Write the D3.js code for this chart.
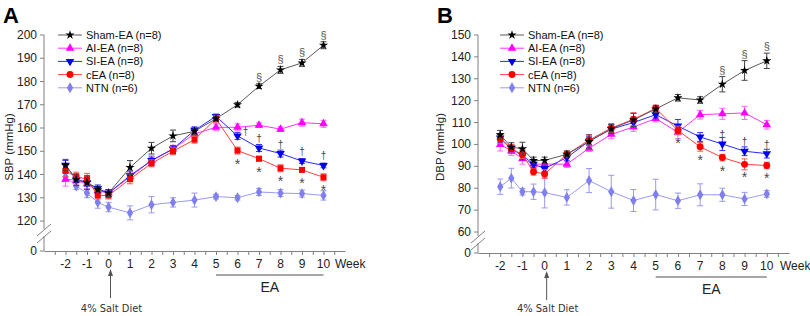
<!DOCTYPE html>
<html>
<head>
<meta charset="utf-8">
<script src="https://cdn.jsdelivr.net/npm/d3@7"></script>
<style>
  body { margin: 0; background: #fff; }
  svg { font-family: "Liberation Sans", Arial, sans-serif; }
</style>
</head>
<body>
<div id="container"></div>
<script>
// weeks where blood pressure was measured
let weeks = [-2, -1.5, -1, -0.5, 0, 1, 2, 3, 4, 5, 6, 7, 8, 9, 10];
let weekLabels = [-2, -1, 0, 1, 2, 3, 4, 5, 6, 7, 8, 9, 10];
let groupNames = ["Sham-EA (n=8)", "AI-EA (n=8)", "SI-EA (n=8)", "cEA (n=8)", "NTN (n=6)"];

// SBP (panel A)
let sbpSham = [144, 137.8, 136.5, 133.5, 132, 143, 151.3, 156.6, 158.6, 164, 170, 178, 185, 188, 195.6];
let sbpShamErr = [2.5, 2.5, 3, 1.5, 1.5, 3, 2.5, 2.5, 1.5, 1, 1, 1, 1.5, 1.5, 1.5];
let sbpAI = [138, 137.5, 136, 133, 132, 139, 146, 151, 157.5, 160.3, 160.3, 161.2, 159.5, 162.3, 161.8];
let sbpAIErr = [3, 2, 2, 1.5, 1.5, 2, 2, 1.5, 1.5, 1.5, 1.5, 1, 1, 1.5, 1.5];
let sbpSI = [144, 138, 136.5, 134, 132, 139.5, 146, 151, 159, 165, 156.6, 151.4, 149, 145.8, 143.9];
let sbpSIErr = [2, 1.5, 1.5, 1.5, 1.5, 2, 1.5, 1.5, 1.5, 1, 1.5, 1.5, 1.5, 1, 1];
let sbpCEA = [141.5, 139, 138, 131, 131, 138, 144.8, 150, 155, 164, 150.3, 146.8, 142.7, 142, 138.8];
let sbpCEAErr = [2.5, 2, 2.5, 1.5, 1.5, 2, 1.5, 1.5, 1.5, 1.5, 1.5, 1, 1.5, 1, 1.5];
let sbpNTN = [139, 135, 132, 128, 126, 123.5, 127, 128, 129, 130.5, 130, 132.5, 132, 131.8, 131];
let sbpNTNErr = [2, 1.5, 2, 2.5, 2, 3, 3.5, 2, 3, 1, 1, 1.5, 1.5, 1.5, 2];
let sbpSection = [7, 8, 9, 10];
let sbpDagger = [7, 8, 9, 10];
let sbpDaggerSide = [6];
let sbpStar = [6, 7, 8, 9, 10];
let sbpTicks = [0, 120, 130, 140, 150, 160, 170, 180, 190, 200];

// DBP (panel B)
let dbpSham = [104.4, 98.8, 98, 92.7, 92.7, 95.5, 101.3, 107.2, 111.2, 116.2, 121.3, 120.3, 127.5, 133.8, 138.2];
let dbpShamErr = [2, 2, 3, 1.5, 1.5, 1.5, 3, 2, 3, 1.5, 1.5, 1.5, 3.5, 4.5, 3.5];
let dbpAI = [100, 97, 93.5, 91, 91, 91, 98.3, 104.6, 108, 111.8, 105.6, 113.6, 114, 114.4, 109];
let dbpAIErr = [3, 2, 2.5, 2, 2, 1.5, 1.5, 2, 2, 1.5, 3, 2, 2.5, 3, 2];
let dbpSI = [103, 98, 95, 91, 89, 94, 101.5, 107, 110, 113.6, 108.4, 103.4, 100.2, 96.9, 95.8];
let dbpSIErr = [2, 2, 2, 1.5, 1.5, 1.5, 2, 2, 2, 1.5, 3, 2, 3, 2, 2];
let dbpCEA = [102.5, 98, 95.5, 87.5, 86.5, 95.5, 102, 107.5, 111.5, 116.5, 106.4, 98.9, 94, 90.9, 90.4];
let dbpCEAErr = [2, 2, 2, 1.5, 2, 1.5, 2.5, 2, 3, 1.5, 2, 2, 1.5, 2.5, 1.5];
let dbpNTN = [80.7, 84.6, 78.4, 78.4, 78, 75.8, 83.5, 78.4, 74.4, 77.1, 74.3, 77, 77, 75.1, 77.4];
let dbpNTNErr = [3.5, 4.5, 1.5, 3.5, 7, 3.5, 5.5, 7.5, 5, 7, 3.5, 5, 3, 3, 1.5];
let dbpSection = [8, 9, 10];
let dbpDagger = [8, 9, 10];
let dbpDaggerSide = [];
let dbpStar = [6, 7, 8, 9, 10];
let dbpTicks = [0, 60, 70, 80, 90, 100, 110, 120, 130, 140, 150];

let w = 810;
let h = 316;

let viz = d3.select("#container")
  .append("svg")
  .attr("width", w)
  .attr("height", h)
;

// style per group: line colour, marker colour, error bar colour, symbol
let styles = [
  {line: "#5a5a5a", fill: "#000000", err: "#444444", sym: d3.symbolStar, size: 26, rot: 0},
  {line: "#ff33ff", fill: "#ff00ff", err: "#ff66ff", sym: d3.symbolTriangle, size: 32, rot: 0},
  {line: "#2a2aff", fill: "#0000ee", err: "#3333ff", sym: d3.symbolTriangle, size: 32, rot: 180},
  {line: "#ff4040", fill: "#ff0000", err: "#ff5555", sym: d3.symbolSquare, size: 36, rot: 0},
  {line: "#9a9af5", fill: "#7f7ff0", err: "#9999f2", sym: d3.symbolDiamond, size: 34, rot: 0}
];

function drawPanel(p) {
  let g = viz.append("g");
  let x = d3.scaleLinear().domain([-3, 11]).range(p.xRange);
  let y = d3.scaleLinear().domain(p.yDomain).range(p.yRange);

  let x0 = p.xRange[0];
  let yTop = p.yRange[p.yRange.length - 1];
  let yBot = p.yRange[0];

  // y axis: ticks and labels
  g.selectAll(".yt").data(p.yTicks).enter().append("line")
    .attr("class", "yt")
    .attr("x1", x0 - 4).attr("x2", x0)
    .attr("y1", d => y(d)).attr("y2", d => y(d))
    .attr("stroke", "#808080");
  g.selectAll(".yl").data(p.yTicks).enter().append("text")
    .attr("class", "yl")
    .attr("x", x0 - 7).attr("y", d => y(d) + 4)
    .attr("text-anchor", "end").attr("font-size", 12).attr("fill", "#222")
    .text(d => String(d));

  g.append("line").attr("x1", x0).attr("x2", x0).attr("y1", yTop).attr("y2", p.breakY - 4)
    .attr("stroke", "#808080");
  g.append("line").attr("x1", x0).attr("x2", x0).attr("y1", p.breakY + 3).attr("y2", yBot)
    .attr("stroke", "#808080");
  [-3, 4].forEach(off => {
    g.append("line")
      .attr("x1", x0 - 7).attr("y1", p.breakY + off + 6)
      .attr("x2", x0 + 7).attr("y2", p.breakY + off - 6)
      .attr("stroke", "#808080");
  });

  // x axis
  let halfTicks = d3.range(-2.5, 10.51, 0.5);
  let xAxis = g.append("g")
    .attr("transform", `translate(0,${yBot})`)
    .call(d3.axisBottom(x).tickValues(halfTicks).tickSize(4).tickSizeOuter(0).tickFormat(""));
  xAxis.select(".domain").attr("stroke", "#808080");
  xAxis.selectAll("line").attr("stroke", "#808080");
  g.selectAll(".xl").data(weekLabels).enter().append("text")
    .attr("class", "xl")
    .attr("x", d => x(d)).attr("y", yBot + 17)
    .attr("text-anchor", "middle").attr("font-size", 12).attr("fill", "#222")
    .text(d => d);
  g.append("text").attr("x", p.weekX).attr("y", yBot + 17)
    .attr("font-size", 12).attr("fill", "#222").text("Week");

  // EA bar
  g.append("line").attr("x1", x(5)).attr("x2", x(10))
    .attr("y1", yBot + 24).attr("y2", yBot + 24)
    .attr("stroke", "#8a8a8a").attr("stroke-width", 1.5);
  g.append("text").attr("x", x(7.5)).attr("y", yBot + 41)
    .attr("text-anchor", "middle").attr("font-size", 14).attr("fill", "#222").text("EA");

  // salt diet arrow
  g.append("line").attr("x1", x(0) + 2).attr("x2", x(0) + 2)
    .attr("y1", yBot + 47).attr("y2", yBot + 20)
    .attr("stroke", "#555").attr("stroke-width", 1);
  g.append("path")
    .attr("d", `M${x(0) + 2},${yBot + 18} l-2.5,7 l5,0 z`)
    .attr("fill", "#555");
  g.append("text").attr("x", x(0) + 3).attr("y", 312)
    .attr("text-anchor", "middle").attr("font-size", 11).attr("fill", "#333")
    .attr("font-family", "DejaVu Sans Condensed, DejaVu Sans")
    .text("4% Salt Diet");

  // y label and panel letter
  g.append("text")
    .attr("transform", `translate(${p.labelX},${147}) rotate(-90)`)
    .attr("text-anchor", "middle").attr("font-size", 11.5).attr("fill", "#222")
    .text(p.yLabel);
  g.append("text").attr("x", p.letterX).attr("y", 23)
    .attr("font-size", 22).attr("font-weight", "bold").text(p.letter);

  // series, back to front
  let order = [4, 1, 2, 3, 0];
  order.forEach(i => {
    let st = styles[i];
    let sym = (i === 3) ? d3.symbol().type(p.cEAsym).size(p.cEAsym === d3.symbolCircle ? 38 : 36)
                        : d3.symbol().type(st.sym).size(st.size);
    let pts = weeks.map((wk, j) => ({wk: wk, v: p.series[i][j], e: p.errs[i][j]}));
    let lineMaker = d3.line().x(d => x(d.wk)).y(d => y(d.v));
    g.append("path").datum(pts).attr("d", lineMaker)
      .attr("fill", "none").attr("stroke", st.line).attr("stroke-width", 1);
    let eb = g.append("g").attr("stroke", st.err).attr("stroke-width", 1);
    pts.forEach(d => {
      let cx = x(d.wk);
      eb.append("line").attr("x1", cx).attr("x2", cx).attr("y1", y(d.v - d.e)).attr("y2", y(d.v + d.e));
      eb.append("line").attr("x1", cx - 3).attr("x2", cx + 3).attr("y1", y(d.v - d.e)).attr("y2", y(d.v - d.e));
      eb.append("line").attr("x1", cx - 3).attr("x2", cx + 3).attr("y1", y(d.v + d.e)).attr("y2", y(d.v + d.e));
    });
    g.selectAll(".m" + i).data(pts).enter().append("path")
      .attr("class", "m" + i)
      .attr("d", sym)
      .attr("transform", d => `translate(${x(d.wk)},${y(d.v)}) rotate(${st.rot})`)
      .attr("fill", st.fill);
  });

  // significance marks
  let at = (arr, wk) => arr[weeks.indexOf(wk)];
  p.section.forEach(wk => {
    g.append("text").attr("x", x(wk)).attr("y", y(at(p.series[0], wk) + at(p.errs[0], wk)) - 3)
      .attr("text-anchor", "middle").attr("font-size", 11).attr("fill", "#555").text("§");
  });
  p.dagger.forEach(wk => {
    g.append("text").attr("x", x(wk)).attr("y", y(at(p.series[2], wk)) - 6)
      .attr("text-anchor", "middle").attr("font-size", 10).attr("fill", "#444").text("†");
  });
  p.daggerSide.forEach(wk => {
    g.append("text").attr("x", x(wk) + 8).attr("y", y(at(p.series[2], wk)) - 1)
      .attr("text-anchor", "middle").attr("font-size", 10).attr("fill", "#444").text("†");
  });
  p.star.forEach(wk => {
    g.append("text").attr("x", x(wk)).attr("y", y(at(p.series[3], wk)) + 18)
      .attr("text-anchor", "middle").attr("font-size", 14).attr("fill", "#4a4a4a").text("*");
  });

  // legend
  let lg = g.append("g");
  groupNames.forEach((name, i) => {
    let st = styles[i];
    let ly = 35 + i * 13.2;
    let lx = p.legendX;
    lg.append("line").attr("x1", lx).attr("x2", lx + 24).attr("y1", ly).attr("y2", ly)
      .attr("stroke", st.line);
    let sym = (i === 3) ? d3.symbol().type(d3.symbolCircle).size(38) : d3.symbol().type(st.sym).size(st.size);
    lg.append("path").attr("d", sym)
      .attr("transform", `translate(${lx + 12},${ly}) rotate(${st.rot})`)
      .attr("fill", st.fill);
    lg.append("text").attr("x", lx + 28).attr("y", ly + 4)
      .attr("font-size", 11).attr("fill", "#111").text(name);
  });
}

drawPanel({
  letter: "A", letterX: 3, labelX: 13, yLabel: "SBP (mmHg)",
  xRange: [44, 345], yDomain: [0, 120, 200], yRange: [251, 221, 35], yTicks: sbpTicks,
  breakY: 233, weekX: 335, legendX: 58, cEAsym: d3.symbolSquare,
  series: [sbpSham, sbpAI, sbpSI, sbpCEA, sbpNTN],
  errs: [sbpShamErr, sbpAIErr, sbpSIErr, sbpCEAErr, sbpNTNErr],
  section: sbpSection, dagger: sbpDagger, daggerSide: sbpDaggerSide, star: sbpStar
});

drawPanel({
  letter: "B", letterX: 437, labelX: 444, yLabel: "DBP (mmHg)",
  xRange: [478, 789], yDomain: [0, 60, 150], yRange: [253, 232, 35], yTicks: dbpTicks,
  breakY: 240, weekX: 780, legendX: 500, cEAsym: d3.symbolCircle,
  series: [dbpSham, dbpAI, dbpSI, dbpCEA, dbpNTN],
  errs: [dbpShamErr, dbpAIErr, dbpSIErr, dbpCEAErr, dbpNTNErr],
  section: dbpSection, dagger: dbpDagger, daggerSide: dbpDaggerSide, star: dbpStar
});
</script>
</body>
</html>
